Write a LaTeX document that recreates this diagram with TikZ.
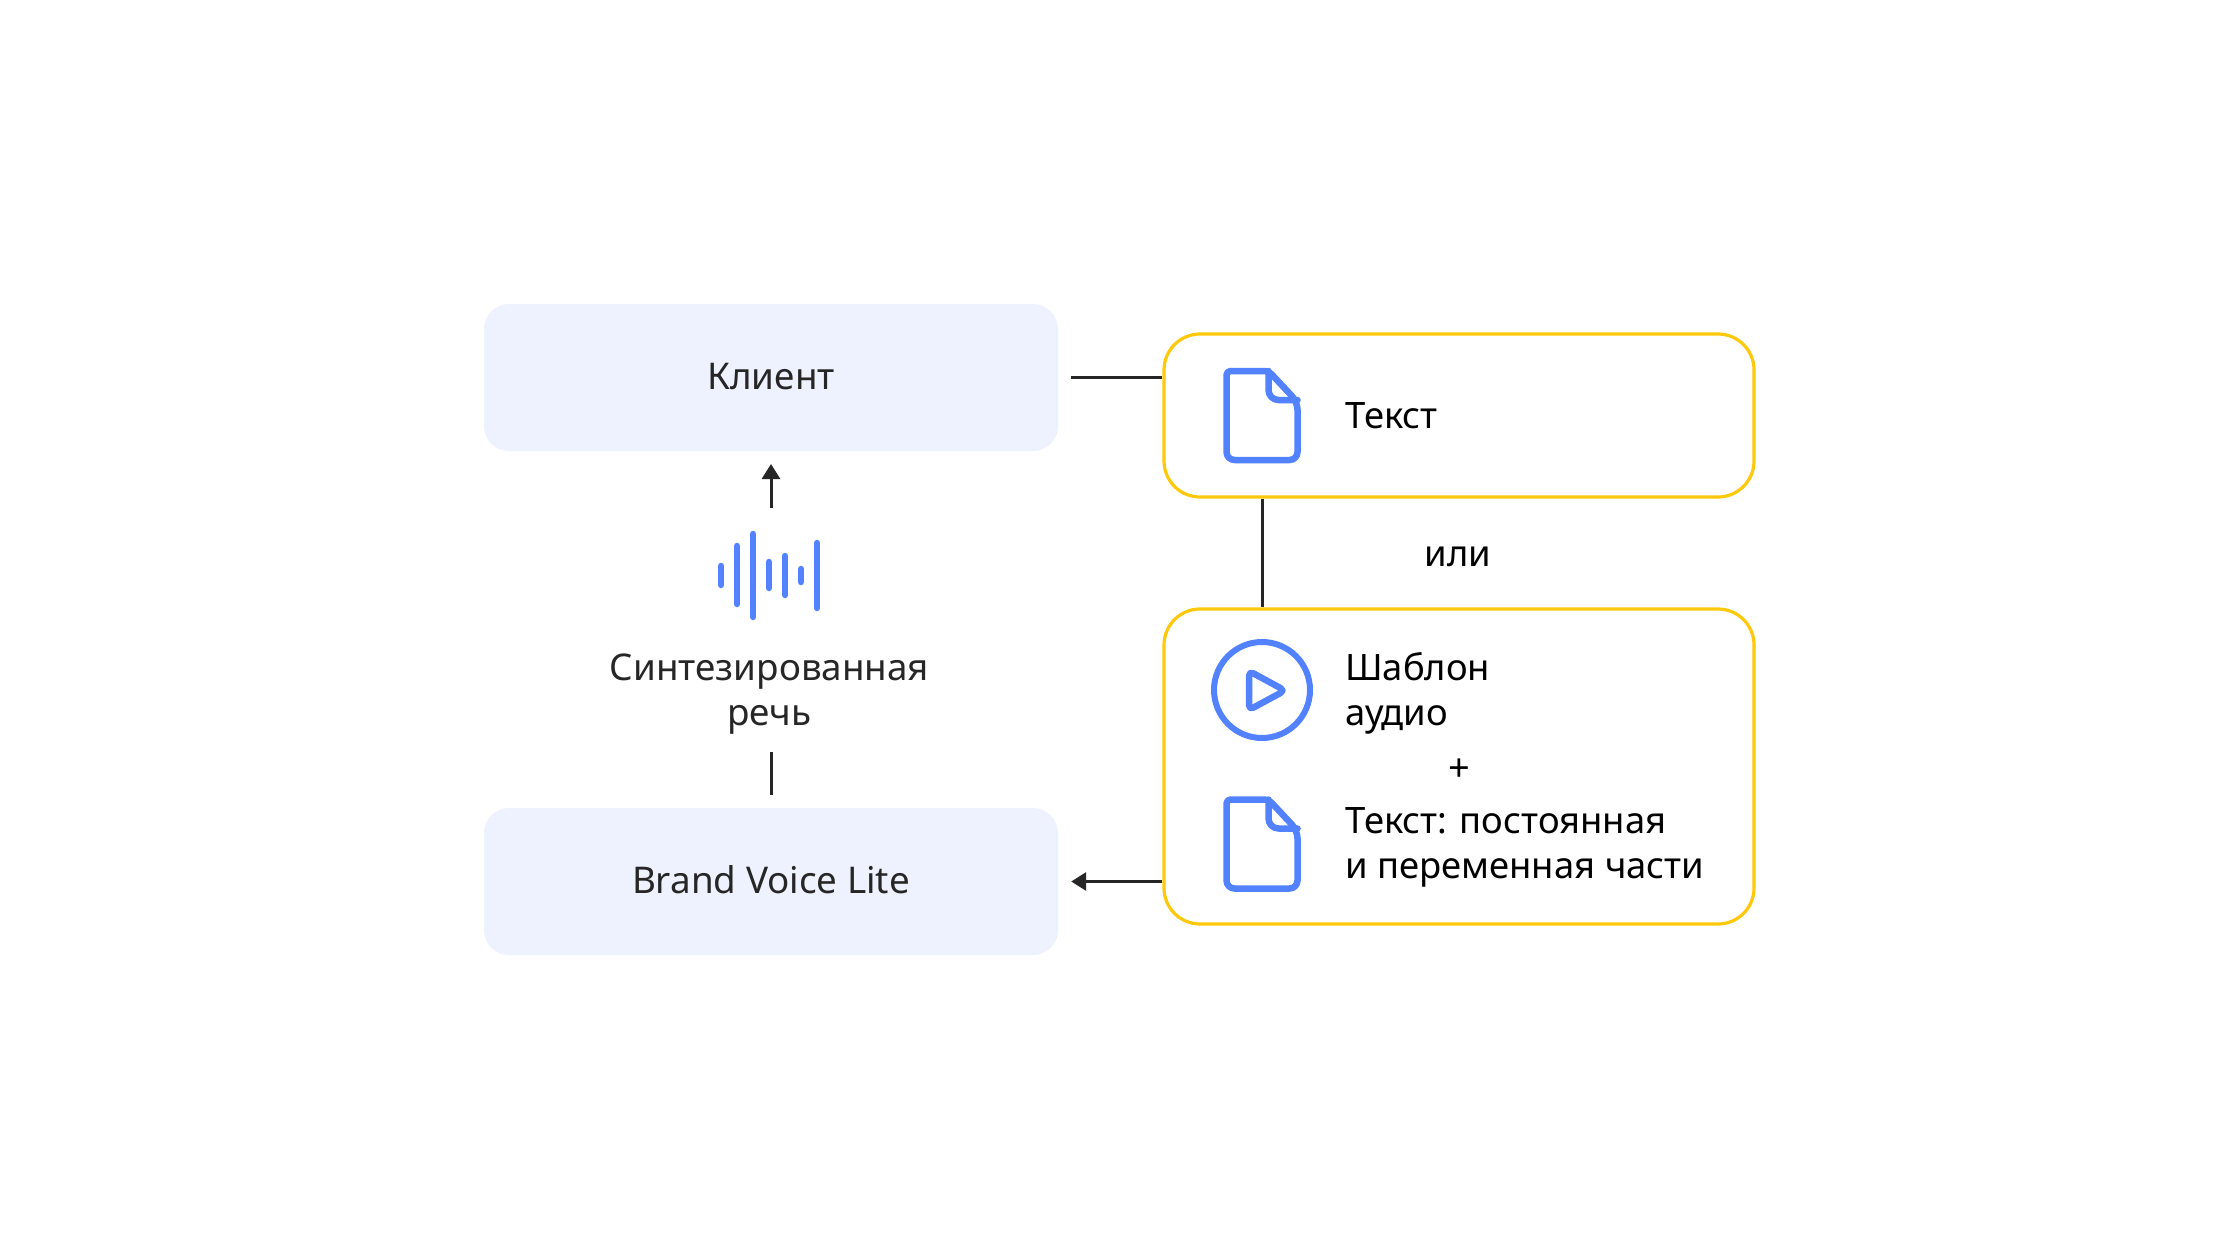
\documentclass[tikz,border=0pt]{standalone}
\usepackage{fontspec}
\setmainfont{Noto Sans}
\usetikzlibrary{arrows.meta,calc}
\definecolor{boxfill}{HTML}{EEF2FE}
\definecolor{ybord}{HTML}{FFC90B}
\definecolor{iconblue}{HTML}{5282FF}
\definecolor{ink}{HTML}{262626}
\tikzset{
  x=1pt,y=-1pt,
  softbox/.style={draw=none,fill=boxfill,rounded corners=25pt,minimum width=574pt,minimum height=147pt,inner sep=0pt,text=ink,text height=26pt,text depth=2pt,font=\fontsize{36.8}{45}\selectfont},
  yellowbox/.style={draw=ybord,line width=3.2pt,fill=white,rounded corners=36pt,minimum width=590pt,inner sep=0pt},
  lbl/.style={inner sep=0pt,anchor=base west,align=left,font=\fontsize{36.4}{45}\selectfont,text=black},
  link/.style={draw=ink,line width=3pt},
  arrowlink/.style={link,-{Triangle[length=15pt,width=18pt]}},
  iconline/.style={draw=iconblue,line width=6.5pt,line join=round,line cap=round},
  bar/.style={draw=iconblue,line width=6.5pt,line cap=round},
}
\newcommand{\docicon}[2]{%
  \draw[iconline,rounded corners=8pt] (#1+0,#2+2) -- (#1+0,#2+91) -- (#1+71,#2+91) -- (#1+71,#2+33) [rounded corners=4pt] -- (#1+42,#2+2) -- cycle;
  \draw[iconline,rounded corners=10pt] (#1+42,#2+2) -- (#1+42,#2+31) -- (#1+71,#2+31);
}
\begin{document}
\begin{tikzpicture}
\useasboundingbox (0,0) rectangle (2240,1260);
\fill[white] (0,0) rectangle (2240,1260);
\node[softbox] (client) at (771,377.5) {Клиент};
\node[softbox] (bvl) at (771,881.5) {Brand Voice Lite};
\node[yellowbox,minimum height=163pt] (y1) at (1459,415.5) {};
\node[yellowbox,minimum height=315pt] (y2) at (1459,766.5) {};
% speech
\node[inner sep=0pt,minimum width=102pt,minimum height=89pt] (wave) at (769,575.5) {};
\draw[bar] (721,566) -- (721,585);
\draw[bar] (737,546) -- (737,604);
\draw[bar] (753,534) -- (753,617);
\draw[bar] (769,562) -- (769,588);
\draw[bar] (785,556) -- (785,595);
\draw[bar] (801,569) -- (801,582);
\draw[bar] (817,543) -- (817,608);
\node[inner sep=0pt,align=center,text=ink,font=\fontsize{36.8}{45}\selectfont,anchor=base] (speech) at (769.5,725) {Синтезированная\\речь};
% icons
\node[draw=iconblue,line width=6pt,circle,minimum size=96pt,inner sep=0pt] (play) at (1262,690) {};
\draw[iconline,rounded corners=5pt] (1249,671) -- (1285,690.5) -- (1249,710) -- cycle;
\docicon{1226.5}{369}
\docicon{1226.5}{797.5}
% texts
\node[lbl] (t1) at (1345,428) {Текст};
\node[lbl] (t2) at (1424.5,566) {или};
\node[lbl] (t3) at (1345,725) {Шаблон\\аудио};
\node[lbl,anchor=base,font=\fontsize{38}{45}\selectfont] (t4) at (1459,781) {+};
\node[lbl] (t5) at (1345,878) {Текст: постоянная\\и переменная части};
% connectors
\coordinate (clientout) at ($(client.east)+(13,0)$);
\coordinate (bvlin) at ($(bvl.east)+(13,0)$);
\coordinate (clientin) at (771,464);
\coordinate (upstart) at (771,508);
\coordinate (downtop) at (771,752);
\coordinate (downend) at (771,795);
\draw[link] (clientout) -- (clientout -| y1.west);
\draw[link] (y1.south -| play) -- (y2.north -| play);
\draw[arrowlink] (bvlin -| y2.west) -- (bvlin);
\draw[arrowlink] (upstart) -- (clientin);
\draw[link] (downtop) -- (downend);
\end{tikzpicture}
\end{document}
